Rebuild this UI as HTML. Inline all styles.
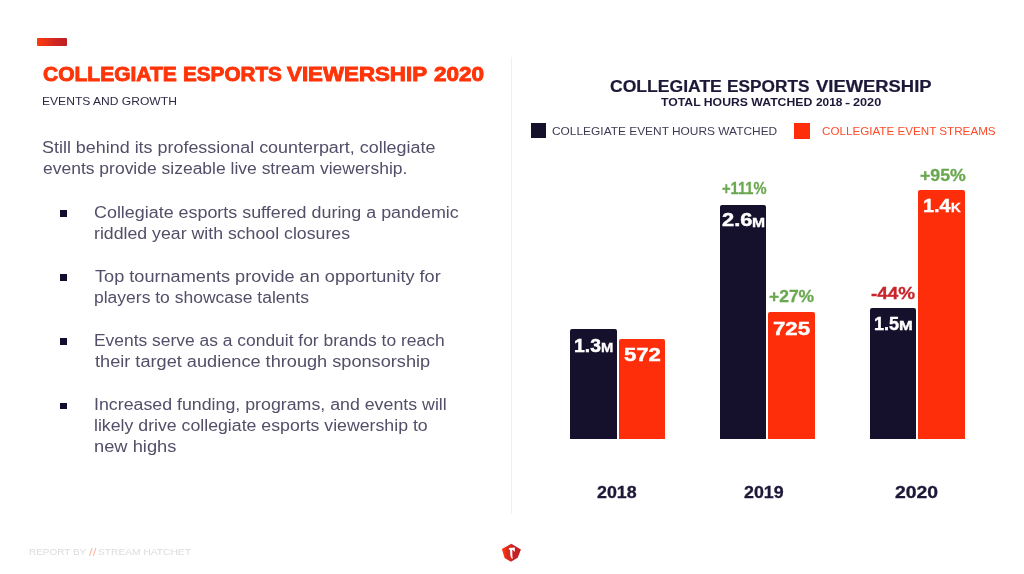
<!DOCTYPE html>
<html lang="en"><head><meta charset="utf-8"><title>Collegiate Esports Viewership 2020</title>
<style>
html,body{margin:0;padding:0;background:#fff;}
body{width:1024px;height:574px;position:relative;overflow:hidden;font-family:"Liberation Sans",sans-serif;}
h1,h2,h3,p,ul,li,header,footer,section,figure{margin:0;padding:0;list-style:none;font-size:16px;font-weight:400;}
.t{position:absolute;display:block;white-space:nowrap;line-height:1;transform-origin:0 0;}
.b{position:absolute;display:block;border-radius:2px 2px 0 0;}
.q{position:absolute;display:block;}
</style></head><body>
<header>
<span class="q" style="left:37.4px;top:38.2px;width:30px;height:8.1px;border-radius:1px;background:linear-gradient(90deg,#ff3a10 0%,#e83218 30%,#cf2722 60%,#c01f22 100%)"></span>
<h1><span class="t" id="t0" style="left:42.75px;top:64.66px;font-size:19.30px;font-weight:700;color:#ff3409;transform:scaleX(1.0890);-webkit-text-stroke:0.85px #ff3409;">COLLEGIATE</span> <span class="t" id="t1" style="left:182.51px;top:64.66px;font-size:19.30px;font-weight:700;color:#ff3409;transform:scaleX(1.0736);-webkit-text-stroke:0.85px #ff3409;">ESPORTS</span> <span class="t" id="t2" style="left:286.95px;top:64.66px;font-size:19.30px;font-weight:700;color:#ff3409;transform:scaleX(1.1568);-webkit-text-stroke:0.85px #ff3409;">VIEWERSHIP</span> <span class="t" id="t3" style="left:433.89px;top:64.66px;font-size:19.30px;font-weight:700;color:#ff3409;transform:scaleX(1.1681);-webkit-text-stroke:0.85px #ff3409;">2020</span></h1>
<p><span class="t" id="t4" style="left:42.49px;top:96.87px;font-size:10.40px;font-weight:400;color:#2e2a45;transform:scaleX(1.1622);">EVENTS AND GROWTH</span></p>
</header>
<section>
<p><span class="t" id="t5" style="left:42.22px;top:139.53px;font-size:15.80px;font-weight:400;color:#524f68;transform:scaleX(1.1343);">Still behind its professional counterpart, collegiate</span> <span class="t" id="t6" style="left:43.11px;top:160.53px;font-size:15.80px;font-weight:400;color:#524f68;transform:scaleX(1.1066);">events provide sizeable live stream viewership.</span></p>
<ul>
<li><span class="q" style="left:60.3px;top:210.3px;width:7px;height:6.8px;background:#140d2e"></span><span class="t" id="t7" style="left:93.83px;top:204.77px;font-size:15.80px;font-weight:400;color:#524f68;transform:scaleX(1.1328);">Collegiate esports suffered during a pandemic</span> <span class="t" id="t8" style="left:94.32px;top:226.17px;font-size:15.80px;font-weight:400;color:#524f68;transform:scaleX(1.1214);">riddled year with school closures</span></li>
<li><span class="q" style="left:60.3px;top:274.4px;width:7px;height:6.8px;background:#140d2e"></span><span class="t" id="t9" style="left:94.71px;top:268.97px;font-size:15.80px;font-weight:400;color:#524f68;transform:scaleX(1.1479);">Top tournaments provide an opportunity for</span> <span class="t" id="t10" style="left:94.31px;top:289.71px;font-size:15.80px;font-weight:400;color:#524f68;transform:scaleX(1.1073);">players to showcase talents</span></li>
<li><span class="q" style="left:60.3px;top:338.3px;width:7px;height:6.8px;background:#140d2e"></span><span class="t" id="t11" style="left:93.92px;top:332.77px;font-size:15.80px;font-weight:400;color:#524f68;transform:scaleX(1.1029);">Events serve as a conduit for brands to reach</span> <span class="t" id="t12" style="left:94.71px;top:354.17px;font-size:15.80px;font-weight:400;color:#524f68;transform:scaleX(1.1495);">their target audience through sponsorship</span></li>
<li><span class="q" style="left:60.3px;top:402.5px;width:7px;height:6.8px;background:#140d2e"></span><span class="t" id="t13" style="left:93.71px;top:397.17px;font-size:15.80px;font-weight:400;color:#524f68;transform:scaleX(1.1252);">Increased funding, programs, and events will</span> <span class="t" id="t14" style="left:94.23px;top:418.31px;font-size:15.80px;font-weight:400;color:#524f68;transform:scaleX(1.1211);">likely drive collegiate esports viewership to</span> <span class="t" id="t15" style="left:94.09px;top:439.31px;font-size:15.80px;font-weight:400;color:#524f68;transform:scaleX(1.1581);">new highs</span></li>
</ul>
</section>
<span class="q" style="left:510.8px;top:56.8px;width:1px;height:456.8px;background:#f0f0f0"></span>
<section>
<h2><span class="t" id="t19" style="left:610.15px;top:78.62px;font-size:15.60px;font-weight:700;color:#1d1838;transform:scaleX(1.1258);-webkit-text-stroke:0.20px #1d1838;">COLLEGIATE</span> <span class="t" id="t20" style="left:726.57px;top:78.62px;font-size:15.60px;font-weight:700;color:#1d1838;transform:scaleX(1.1070);-webkit-text-stroke:0.20px #1d1838;">ESPORTS</span> <span class="t" id="t21" style="left:815.53px;top:78.62px;font-size:15.60px;font-weight:700;color:#1d1838;transform:scaleX(1.1801);-webkit-text-stroke:0.20px #1d1838;">VIEWERSHIP</span></h2>
<h3><span class="t" id="t22" style="left:661.06px;top:97.04px;font-size:10.60px;font-weight:700;color:#1d1838;transform:scaleX(1.1542);">TOTAL HOURS WATCHED</span> <span class="t" id="t23" style="left:815.56px;top:97.04px;font-size:10.60px;font-weight:700;color:#1d1838;transform:scaleX(1.1233);">2018</span> <span class="t" id="t24" style="left:845.15px;top:97.04px;font-size:10.60px;font-weight:700;color:#1d1838;transform:scaleX(1.4518);">-</span> <span class="t" id="t25" style="left:853.01px;top:97.04px;font-size:10.60px;font-weight:700;color:#1d1838;transform:scaleX(1.1980);">2020</span></h3>
<p><span class="q" style="left:530.7px;top:122.6px;width:15.7px;height:15.4px;background:#15102b"></span><span class="t" id="t26" style="left:551.68px;top:125.82px;font-size:11.20px;font-weight:400;color:#3e3a54;transform:scaleX(1.0645);">COLLEGIATE EVENT HOURS WATCHED</span></p>
<p><span class="q" style="left:793.7px;top:123px;width:16px;height:15.6px;background:#fe2d0a"></span><span class="t" id="t27" style="left:821.54px;top:125.82px;font-size:11.20px;font-weight:400;color:#ff4a2a;transform:scaleX(1.0407);">COLLEGIATE EVENT STREAMS</span></p>
<figure>
<span class="b" style="left:570.2px;top:328.6px;width:46.8px;height:110.5px;background:#15102b"></span>
<span class="b" style="left:618.7px;top:339.1px;width:46.8px;height:100.0px;background:#fe2d0a"></span>
<span class="b" style="left:719.5px;top:205.0px;width:46.6px;height:234.1px;background:#15102b"></span>
<span class="b" style="left:768.0px;top:311.6px;width:46.7px;height:127.5px;background:#fe2d0a"></span>
<span class="b" style="left:869.9px;top:307.9px;width:46.4px;height:131.2px;background:#15102b"></span>
<span class="b" style="left:918.4px;top:190.1px;width:46.5px;height:249.0px;background:#fe2d0a"></span>
<span class="t" id="t31" style="left:574.41px;top:335.85px;font-size:19.20px;font-weight:700;color:#fff;transform:scaleX(1.0078);-webkit-text-stroke:0.45px #fff;">1.3</span>
<span class="t" id="t32" style="left:600.74px;top:340.93px;font-size:13.20px;font-weight:700;color:#fff;transform:scaleX(1.1145);-webkit-text-stroke:0.35px #fff;">M</span>
<span class="t" id="t33" style="left:623.66px;top:344.95px;font-size:19.20px;font-weight:700;color:#fff;transform:scaleX(1.1537);-webkit-text-stroke:0.45px #fff;">572</span>
<span class="t" id="t34" style="left:722.33px;top:210.40px;font-size:19.20px;font-weight:700;color:#fff;transform:scaleX(1.1406);-webkit-text-stroke:0.45px #fff;">2.6</span>
<span class="t" id="t35" style="left:752.10px;top:215.78px;font-size:13.20px;font-weight:700;color:#fff;transform:scaleX(1.1897);-webkit-text-stroke:0.35px #fff;">M</span>
<span class="t" id="t36" style="left:773.15px;top:319.10px;font-size:19.20px;font-weight:700;color:#fff;transform:scaleX(1.1556);-webkit-text-stroke:0.45px #fff;">725</span>
<span class="t" id="t37" style="left:874.33px;top:313.85px;font-size:19.20px;font-weight:700;color:#fff;transform:scaleX(0.9428);-webkit-text-stroke:0.45px #fff;">1.5</span>
<span class="t" id="t38" style="left:899.11px;top:318.93px;font-size:13.20px;font-weight:700;color:#fff;transform:scaleX(1.2488);-webkit-text-stroke:0.35px #fff;">M</span>
<span class="t" id="t39" style="left:922.98px;top:196.10px;font-size:19.20px;font-weight:700;color:#fff;transform:scaleX(1.0318);-webkit-text-stroke:0.45px #fff;">1.4</span>
<span class="t" id="t40" style="left:950.80px;top:201.47px;font-size:13.20px;font-weight:700;color:#fff;transform:scaleX(1.0204);-webkit-text-stroke:0.35px #fff;">K</span>
<span class="t" id="t41" style="left:721.72px;top:180.86px;font-size:16.60px;font-weight:700;color:#6aa84f;transform:scaleX(0.8847);-webkit-text-stroke:0.30px #6aa84f;">+111%</span>
<span class="t" id="t42" style="left:768.86px;top:289.21px;font-size:16.60px;font-weight:700;color:#6aa84f;transform:scaleX(1.0515);-webkit-text-stroke:0.30px #6aa84f;">+27%</span>
<span class="t" id="t43" style="left:871.30px;top:285.61px;font-size:16.60px;font-weight:700;color:#c8252b;transform:scaleX(1.1383);-webkit-text-stroke:0.30px #c8252b;">-44%</span>
<span class="t" id="t44" style="left:919.80px;top:168.01px;font-size:16.60px;font-weight:700;color:#6aa84f;transform:scaleX(1.0698);-webkit-text-stroke:0.30px #6aa84f;">+95%</span>
<span class="t" id="t28" style="left:596.68px;top:483.99px;font-size:16.20px;font-weight:700;color:#1d1838;transform:scaleX(1.1029);-webkit-text-stroke:0.30px #1d1838;">2018</span>
<span class="t" id="t29" style="left:744.37px;top:483.99px;font-size:16.20px;font-weight:700;color:#1d1838;transform:scaleX(1.1005);-webkit-text-stroke:0.30px #1d1838;">2019</span>
<span class="t" id="t30" style="left:894.55px;top:483.99px;font-size:16.20px;font-weight:700;color:#1d1838;transform:scaleX(1.1955);-webkit-text-stroke:0.30px #1d1838;">2020</span>
</figure>
</section>
<footer>
<p><span class="t" id="t16" style="left:28.94px;top:547.32px;font-size:9.90px;font-weight:400;color:#dcdce0;transform:scaleX(1.0093);">REPORT BY</span> <span class="t" id="t17" style="left:88.80px;top:546.48px;font-size:11.60px;font-weight:400;color:#ffb3a5;transform:scaleX(1.1362);">//</span> <span class="t" id="t18" style="left:97.99px;top:547.32px;font-size:9.90px;font-weight:400;color:#dcdce0;transform:scaleX(1.0344);">STREAM HATCHET</span></p>
<svg class="q" style="left:500px;top:542px" width="24" height="22" viewBox="0 0 24 22">
<defs><linearGradient id="lg" x1="0" y1="0" x2="1" y2="0"><stop offset="0" stop-color="#ff3407"/><stop offset="0.16" stop-color="#f8320c"/><stop offset="0.24" stop-color="#dc2b1d"/><stop offset="0.5" stop-color="#d9281e"/><stop offset="0.56" stop-color="#c61f23"/><stop offset="1" stop-color="#c41e22"/></linearGradient></defs>
<path d="M11.26 1.7 L20.93 7.6 L17.7 15.7 L10.95 19.8 L4.6 15.9 L1.9 6.9 Z" fill="url(#lg)"/>
<path d="M8.9 6.0 L14.9 5.6 L14.8 9.7 L13.5 9.0 L13.2 7.9 L12.3 8.0 L12.4 14.6 L12.9 16.8 L11.2 16.0 L10.4 13.5 L10.0 7.8 L8.9 7.4 Z" fill="#fff"/>
</svg>
</footer>
</body></html>
